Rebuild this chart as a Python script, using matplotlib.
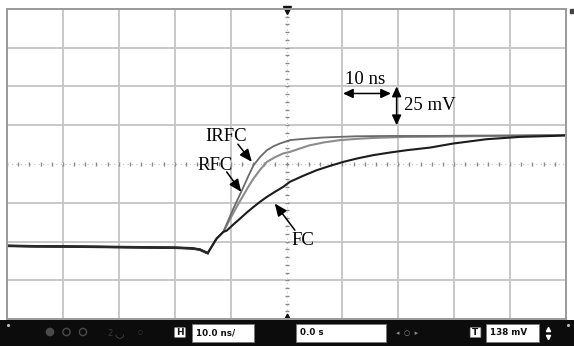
import numpy as np
import matplotlib
matplotlib.use("Agg")
import matplotlib.pyplot as plt
from matplotlib.patches import Rectangle, FancyBboxPatch, Circle

# --- scope settings (display units: ns across, mV up, 0 at screen centre) ---
NS_PER_DIV = 10
MV_PER_DIV = 25

# flat part before the edge, shared by all three traces
base_t = [-50, -45, -40, -35, -30, -25, -20, -17, -15.5, -14.8, -14.1, -12.5, -11.3]
base_v = [-52.8, -53.1, -53.2, -53.4, -53.6, -53.8, -54.0, -54.4, -55.2, -56.4, -57.5, -48.1, -43.8]

irfc_t = [-9.5, -8.6, -7.7, -6.8, -5.9, -4.7, -3.5, -2.3, -1.2, 0.6, 2.4, 4.5, 6.6, 9.5,
          12.6, 18.5, 25.7, 32.8, 41.8, 50]
irfc_v = [-28.7, -21.8, -14.8, -7.6, -0.8, 4.6, 8.9, 11.5, 13.2, 15.4, 16.0, 16.6, 17.1, 17.5,
          17.9, 18.1, 18.1, 18.3, 18.4, 18.7]

rfc_t = [-9.5, -8.6, -7.7, -6.8, -5.9, -4.7, -3.5, -2.0, -0.6, 0.6, 2.4, 4.2, 6.8, 9.6,
         12.5, 15.5, 21.5, 25.7, 32.8, 41.8, 50]
rfc_v = [-31.5, -25.6, -20.1, -14.5, -9.4, -3.6, 1.4, 4.5, 6.8, 7.8, 10.0, 12.1, 14.0, 15.4,
         16.2, 16.8, 17.5, 17.6, 17.9, 18.3, 18.6]

fc_t = [-10.7, -9.5, -8.3, -7.1, -5.9, -4.7, -3.5, -2.0, -0.6, 0.6, 3.0, 5.4, 7.8, 10.2,
        12.8, 15.5, 18.5, 21.5, 25.7, 29.8, 35.8, 41.8, 47.7, 50]
fc_v = [-43.0, -39.0, -35.2, -31.3, -27.7, -24.3, -21.2, -17.8, -14.8, -11.5, -7.6, -4.0, -1.2, 1.4,
        3.7, 5.7, 7.4, 8.9, 10.6, 13.2, 16.0, 17.5, 18.1, 18.4]

labels = ["IRFC", "RFC", "FC"]
time_scale = "10.0 ns/"
delay = "0.0 s"
trig_level = "138 mV"

W, H = 574, 346
fig = plt.figure(figsize=(W / 100, H / 100), dpi=100)
fig.patch.set_facecolor("white")

# graticule area in pixels: x 7..566, y 9..319
ax = fig.add_axes([7 / W, (H - 319) / H, 559 / W, 310 / H])
ax.set_xlim(-5 * NS_PER_DIV, 5 * NS_PER_DIV)
ax.set_ylim(-4 * MV_PER_DIV, 4 * MV_PER_DIV)
ax.set_xticks(np.arange(-50, 51, NS_PER_DIV))
ax.set_yticks(np.arange(-100, 101, MV_PER_DIV))
ax.tick_params(length=0, labelbottom=False, labelleft=False)
ax.grid(True, color="#c4c4c4", lw=1.3)
for s in ax.spines.values():
    s.set_color("#9a9a9a")
    s.set_linewidth(1.4)

# centre lines with minor ticks
ax.axhline(0, color="#ffffff", lw=1.5)
ax.axvline(0, color="#ffffff", lw=1.5)
ax.axhline(0, color="#c4c4c4", lw=0.8, ls=(0, (1, 3)))
ax.axvline(0, color="#c4c4c4", lw=0.8, ls=(0, (1, 3)))
mt = np.arange(-50, 51, NS_PER_DIV / 5)
mv = np.arange(-100, 101, MV_PER_DIV / 5)
ax.plot(mt, np.zeros_like(mt), ls="none", marker="|", ms=3, color="#8a8a8a", mew=1)
ax.plot(np.zeros_like(mv), mv, ls="none", marker="_", ms=3, color="#8a8a8a", mew=1)

# traces
def trace(t, v):
    return np.array(base_t + t), np.array(base_v + v)

t, v = trace(rfc_t, rfc_v)
ax.plot(t, v, color="#8c8c8c", lw=1.5, solid_capstyle="round", solid_joinstyle="round")
t, v = trace(irfc_t, irfc_v)
ax.plot(t, v, color="#6a6a6a", lw=1.3, solid_capstyle="round", solid_joinstyle="round")
t, v = trace(fc_t, fc_v)
ax.plot(t, v, color="#1c1c1c", lw=1.5, solid_capstyle="round", solid_joinstyle="round")
ax.plot(base_t[:11], base_v[:11], color="#2a2a2a", lw=1.9)

# labels and pointers
font = dict(family="Liberation Serif", size=13.5, color="black")
arrow = dict(arrowstyle="-|>,head_length=0.75,head_width=0.32", color="black", lw=1.1,
             shrinkA=0, shrinkB=0)
ax.text(-10.8, 17.5, labels[0], ha="center", va="center", **font)
ax.annotate("", xy=(-6.2, 1.4), xytext=(-8.7, 12.8), arrowprops=arrow)
ax.text(-12.8, -0.8, labels[1], ha="center", va="center", **font)
ax.annotate("", xy=(-8.1, -18.0), xytext=(-10.7, -5.1), arrowprops=arrow)
ax.text(3.0, -49.1, labels[2], ha="center", va="center", **font)
ax.annotate("", xy=(-2.1, -25.5), xytext=(1.5, -42.7), arrowprops=arrow)

# scale markers
dbl = dict(arrowstyle="<|-|>,head_length=0.6,head_width=0.28", color="black", lw=1.1,
           shrinkA=0, shrinkB=0)
ax.annotate("", xy=(10.1, 45.5), xytext=(18.7, 45.5), arrowprops=dbl)
ax.annotate("", xy=(19.7, 50), xytext=(19.7, 25), arrowprops=dbl)
ax.text(14.0, 54.5, "10 ns", ha="center", va="center", **font)
ax.text(21.0, 37.9, "25 mV", ha="left", va="center", **font)

# trigger / position markers
ax.plot(0, 99.5, marker="v", ms=6, color="#111111", clip_on=False)
ax.plot(0, -98, marker="^", ms=3.5, color="#111111", clip_on=False)
ax.plot(51.1, 98.5, marker="s", ms=2.5, color="#444444", clip_on=False)

# bottom control bar, pixel coordinates
bar = fig.add_axes([0, 0, 1, 26 / H])
bar.set_xlim(0, W)
bar.set_ylim(346, 320)
bar.axis("off")
bar.add_patch(Rectangle((0, 320), W, 26, color="#0c0c0c"))

def field(x0, x1, txt):
    bar.add_patch(Rectangle((x0, 323.5), x1 - x0, 18, facecolor="white", edgecolor="#777777", lw=0.6))
    bar.text(x0 + 4, 332.5, txt, ha="left", va="center", fontsize=6.3, fontweight="bold",
             family="DejaVu Sans", color="#111111")

def badge(x0, ch):
    bar.add_patch(FancyBboxPatch((x0, 328), 10, 9, boxstyle="round,pad=0.3", facecolor="white",
                                 edgecolor="#999999", lw=0.5))
    bar.text(x0 + 5, 332.7, ch, ha="center", va="center", fontsize=6.5, fontweight="bold",
             family="DejaVu Sans", color="#111111")

field(191.5, 253.5, time_scale)
field(295.5, 386, delay)
field(485.5, 539, trig_level)
badge(175, "H")
badge(470.5, "T")

bar.add_patch(Circle((50, 332), 3.6, color="#4a4a4a"))
bar.add_patch(Circle((66.5, 332), 3.6, fill=False, ec="#4a4a4a", lw=1))
bar.add_patch(Circle((83, 332), 3.6, fill=False, ec="#4a4a4a", lw=1))
bar.text(110, 333, "2", color="#3a3a3a", fontsize=6, ha="center", va="center")
bar.text(119, 334, "\u25e1", color="#4a4a4a", fontsize=8, ha="center", va="center")
bar.text(140, 332, "\u25cb", color="#3a3a3a", fontsize=4, ha="center", va="center")
bar.text(407.5, 333, "\u25c2  \u25cb  \u25b8", color="#8a8a8a", fontsize=5, ha="center", va="center")
bar.plot(547.5, 328.5, ls="none", marker="^", ms=3, color="white")
bar.plot(547.5, 337, ls="none", marker="v", ms=3, color="white")
bar.plot([8, 567.5], [325, 325], ls="none", marker="o", ms=1.2, color="#bbbbbb")

fig.savefig("out.png", dpi=100)
